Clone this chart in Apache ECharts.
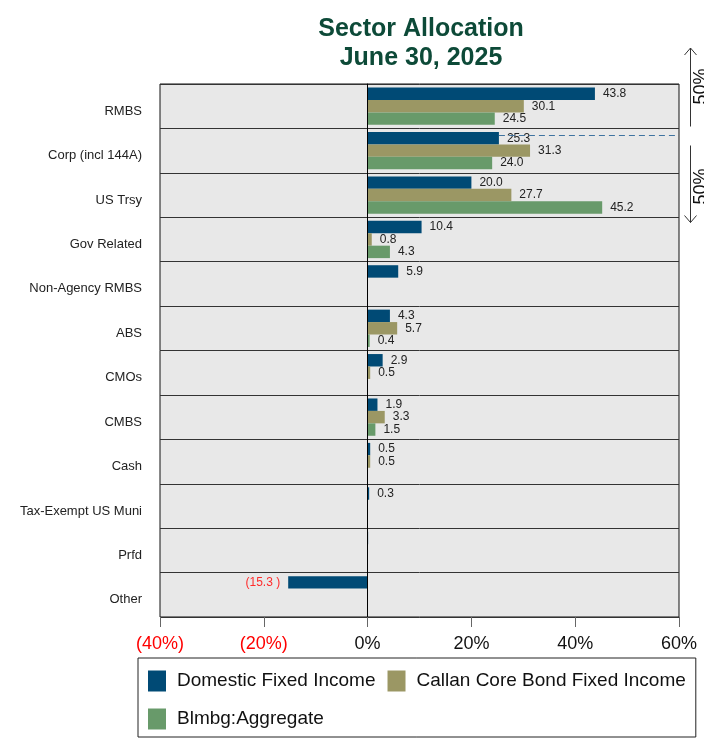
<!DOCTYPE html>
<html><head><meta charset="utf-8">
<script src="https://cdn.jsdelivr.net/npm/echarts@6/dist/echarts.min.js"></script>
<style>html,body{margin:0;padding:0;background:#fff}#c{width:704px;height:740px}</style>
</head><body><div id="c"></div>
<script>
const categories = ['RMBS','Corp (incl 144A)','US Trsy','Gov Related','Non-Agency RMBS','ABS','CMOs','CMBS','Cash','Tax-Exempt US Muni','Prfd','Other'];
const seriesNames = ['Domestic Fixed Income','Callan Core Bond Fixed Income','Blmbg:Aggregate'];
const domestic  = [43.8, 25.3, 20.0, 10.4, 5.9, 4.3, 2.9, 1.9, 0.5, 0.3, 0.1, -15.3];
const callan    = [30.1, 31.3, 27.7, 0.8, null, 5.7, 0.5, 3.3, 0.5, null, null, null];
const aggregate = [24.5, 24.0, 45.2, 4.3, null, 0.4, null, 1.5, null, null, null, null];
const xMin = -40, xMax = 60, xStep = 20;
const halfMarkCategory = 'Corp (incl 144A)';
const halfMarkValue = 25.3;
const halfLabel = '50%';
const colors = ['#004a75', '#9b9764', '#689a6a'];

const FF = 'Liberation Sans, Arial, sans-serif';
const chart = echarts.init(document.getElementById('c'), null, {renderer:'canvas'});
const fmt = v => v < 0 ? '(' + (-v).toFixed(1) + ' )' : v.toFixed(1);
function mkData(arr){
  return arr.map(v => {
    if (v === null) return null;
    return {
      value: v,
      label: {
        show: Math.abs(v) >= 0.2,
        position: v < 0 ? 'left' : 'right',
        color: v < 0 ? '#ff2a2a' : '#222',
        formatter: fmt(v)
      }
    };
  });
}
const allData = [domestic, callan, aggregate];
const series = allData.map((arr, i) => ({
  name: seriesNames[i],
  type: 'bar',
  data: mkData(arr),
  barGap: '0%',
  barCategoryGap: '16%',
  itemStyle: {color: colors[i]},
  label: {show: true, distance: 8, fontSize: 12, fontFamily: FF},
  animation: false,
  markLine: i === 0 ? {
    silent: true, symbol: 'none', animation: false,
    lineStyle: {color: '#000', width: 1, type: 'solid'},
    label: {show: false},
    data: [{xAxis: 0}]
  } : undefined
}));

const option = {
  animation: false,
  textStyle: {fontFamily: FF},
  title: {
    text: 'Sector Allocation\nJune 30, 2025',
    left: 416, top: 10, textAlign: 'center',
    textStyle: {fontSize: 25, fontWeight: 'bold', color: '#0d4a38', lineHeight: 29, fontFamily: FF}
  },
  grid: {left: 160, right: 25, top: 84, bottom: 123, show: true, backgroundColor: '#e8e8e8', borderColor: '#111', borderWidth: 1},
  xAxis: {
    type: 'value', min: xMin, max: xMax, interval: xStep,
    axisLine: {show: false},
    axisTick: {show: true, length: 10, lineStyle: {color: '#666'}},
    splitLine: {show: false},
    axisLabel: {
      fontSize: 18, margin: 18,
      formatter: v => v < 0 ? '(' + (-v) + '%)' : v + '%',
      color: v => (v < 0 ? '#ff0000' : '#111')
    }
  },
  yAxis: {
    type: 'category', data: categories, inverse: true,
    axisLine: {show: true, lineStyle: {color: '#111'}},
    axisTick: {show: false},
    splitLine: {show: true, lineStyle: {color: '#333', width: 1}},
    axisLabel: {fontSize: 13, color: '#222', margin: 18, verticalAlign: 'top', lineHeight: 10}
  },
  legend: {
    data: seriesNames,
    left: 138, top: 658, width: 552,
    padding: [10, 10, 5, 10],
    borderColor: '#222', borderWidth: 1,
    icon: 'rect', itemWidth: 18, itemHeight: 21, itemGap: 12,
    textStyle: {fontSize: 19, color: '#111', lineHeight: 26, padding: [0, 0, 0, 6]}
  },
  series: series
};
chart.setOption(option);

// annotations: 50% split line and arrows, positioned from axes
const cy = chart.convertToPixel({yAxisIndex: 0}, halfMarkCategory);
const cyNext = chart.convertToPixel({yAxisIndex: 0}, categories[categories.indexOf(halfMarkCategory) + 1]);
const band = Math.abs(cyNext - cy);
const barW = band * 0.84 / 3;
const dashY = Math.round(cy - barW - 3) + 0.5;
const x0 = chart.convertToPixel({xAxisIndex: 0}, halfMarkValue);
const xEnd = chart.convertToPixel({xAxisIndex: 0}, xMax);
const gridTop = 84;
const ax = xEnd + 11.5;
const topTip = gridTop - 36;
const botTip = dashY + 87;
chart.setOption({
  graphic: [
    {type: 'line', shape: {x1: x0, y1: dashY, x2: xEnd, y2: dashY}, style: {stroke: '#3f73a0', lineWidth: 1, lineDash: [6, 4]}, z: 100},
    {type: 'line', shape: {x1: ax, y1: topTip, x2: ax, y2: dashY - 9}, style: {stroke: '#333', lineWidth: 1}},
    {type: 'polyline', shape: {points: [[ax - 6, topTip + 7], [ax, topTip], [ax + 6, topTip + 7]]}, style: {stroke: '#333', lineWidth: 1, fill: null}},
    {type: 'line', shape: {x1: ax, y1: dashY + 10, x2: ax, y2: botTip}, style: {stroke: '#333', lineWidth: 1}},
    {type: 'polyline', shape: {points: [[ax - 6, botTip - 7], [ax, botTip], [ax + 6, botTip - 7]]}, style: {stroke: '#333', lineWidth: 1, fill: null}},
    {type: 'text', x: ax + 11, y: dashY - 49, rotation: Math.PI / 2, style: {text: halfLabel, fontSize: 18, fill: '#111', align: 'center', verticalAlign: 'middle', fontFamily: FF}},
    {type: 'text', x: ax + 11, y: dashY + 51, rotation: Math.PI / 2, style: {text: halfLabel, fontSize: 18, fill: '#111', align: 'center', verticalAlign: 'middle', fontFamily: FF}}
  ]
});
</script></body></html>
